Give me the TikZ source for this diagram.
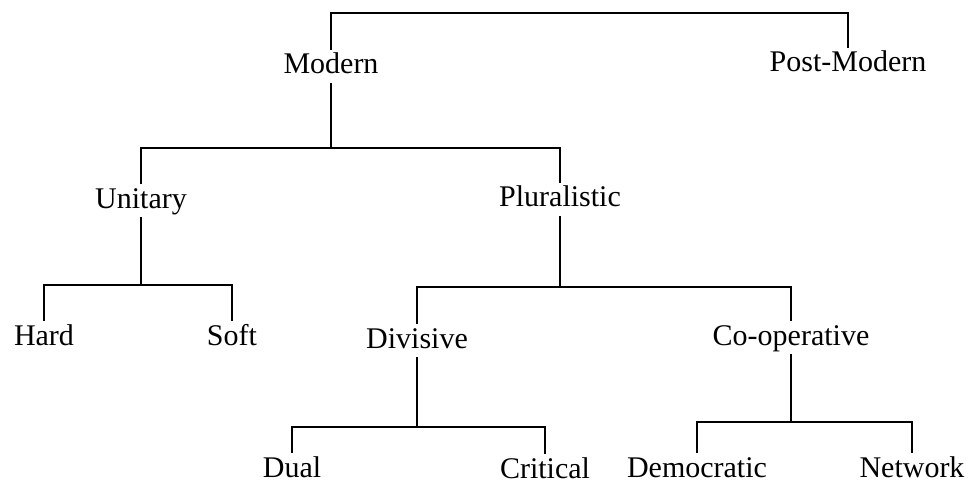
\documentclass[tikz,border=0pt]{standalone}
\usepackage{fontspec}
\usepackage{tikz}
\setmainfont{Liberation Serif}

\begin{document}
\begin{tikzpicture}[x=1pt,y=-1pt,
		every node/.style={inner sep=0pt,text height=24pt,text depth=9pt,font=\fontsize{30pt}{36pt}\selectfont},
		branch/.style={line width=2pt}]
				\useasboundingbox(0,0) rectangle (975,484);
				\node(modern) at (331,74-7.5) {Modern};
				\node(postmod) at (848,72-7.5) {Post-Modern};
				\node(unitary) at (141,208-7.5) {Unitary};
				\node(plural) at (560,207-7.5) {Pluralistic};
				\node(hard) at (44,345-7.5) {Hard};
				\node(soft) at (232,345-7.5) {Soft};
				\node(divisive) at (417,348-7.5) {Divisive};
				\node(coop) at (791,345-7.5) {Co-operative};
				\node(dual) at (292,477-7.5) {Dual};
				\node(critical) at (545,478-7.5) {Critical};
				\node(democ) at (697,477-7.5) {Democratic};
				\node(network) at (912,477-7.5) {Network};
				\draw[branch](modern.north) -- ++(0,-37) -| (postmod.north);
				\draw[branch](modern.south) -- ++(0,65) coordinate(modern-fork);
				\draw[branch](unitary.north) |- (modern-fork) -| (plural.north);
				\draw[branch](unitary.south) -- ++(0,68) coordinate(unitary-fork);
				\draw[branch](hard.north) |- (unitary-fork) -| (soft.north);
				\draw[branch](plural.south) -- ++(0,71) coordinate(plural-fork);
				\draw[branch](divisive.north) |- (plural-fork) -| (coop.north);
				\draw[branch](divisive.south) -- ++(0,70) coordinate(divisive-fork);
				\draw[branch](dual.north) |- (divisive-fork) -| (critical.north);
				\draw[branch](coop.south) -- ++(0,68) coordinate(coop-fork);
				\draw[branch](democ.north) |- (coop-fork) -| (network.north);
			\end{tikzpicture}
\end{document}
